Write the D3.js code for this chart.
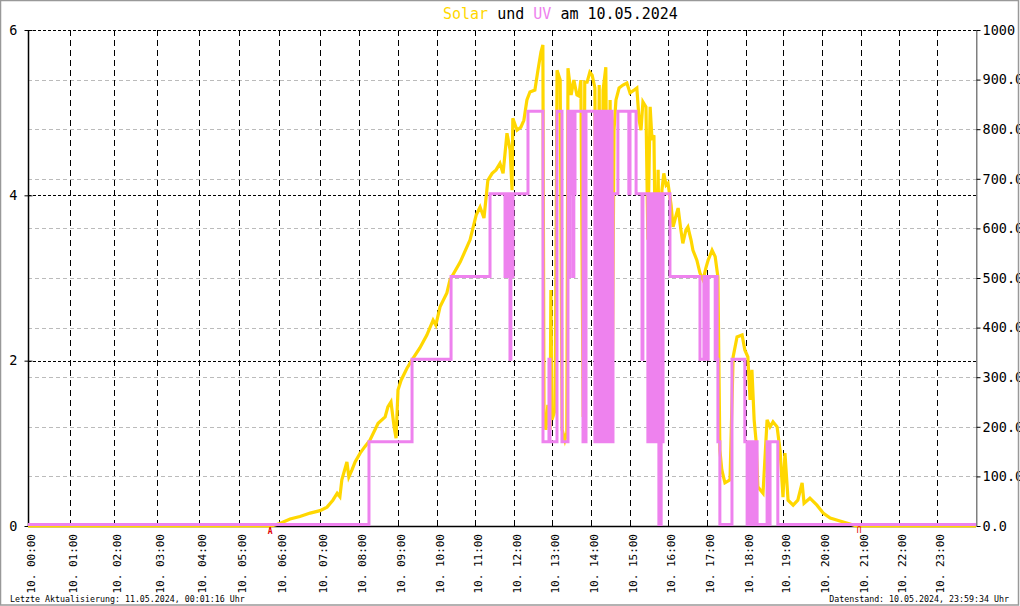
<!DOCTYPE html>
<html><head><meta charset="utf-8">
<script src="https://cdn.jsdelivr.net/npm/d3@7"></script>
<style>
html,body{margin:0;padding:0;background:#fff;}
svg{display:block;}
text{font-family:"DejaVu Sans Mono",monospace;}
</style></head>
<body><svg id="c" width="1020" height="606"></svg>
<script>
// ---------- data ----------
const titleParts = [["Solar","#FFD700"],[" und ","#000"],["UV","#EE82EE"],[" am 10.05.2024","#000"]];
const hourTicks = d3.range(0, 24);
const hourLabels = hourTicks.map(h => "10. " + String(h).padStart(2,"0") + ":00");
const uvTicks = [0, 2, 4, 6];
const solarTicks = d3.range(0, 1001, 100);
const footerLeft = "Letzte Aktualisierung: 11.05.2024, 00:01:16 Uhr";
const footerRight = "Datenstand: 10.05.2024, 23:59:34 Uhr";
const sunrise = 5.78, sunset = 20.95;

// solar radiation (W/m², right axis)
const solarHours = [0,5.82,6.02,6.27,6.51,6.76,7.0,7.18,7.33,7.44, 7.51,7.56,7.69,7.74,7.82,7.90,8.03,8.15,8.28,8.49, 8.67,8.74,8.82,8.90,8.95,9.0,9.08,9.23,9.36,9.56, 9.74,9.90,9.97,10.08,10.26,10.34,10.61,10.87,11.03,11.13, 11.23,11.33,11.44,11.54,11.64,11.72,11.82,11.90,11.95,11.97, 12.08,12.18,12.26,12.34,12.42,12.55,12.63,12.71,12.76,12.79, 12.84,12.89,12.95,12.97,13.0,13.08,13.13,13.21,13.26,13.33, 13.38,13.41,13.49,13.56,13.64,13.69,13.74,13.80,13.84,13.90, 13.97,14.03,14.10,14.15,14.21,14.26,14.31,14.38,14.44,14.49, 14.54,14.59,14.64,14.72,14.82,14.92,15.0,15.11,15.18,15.24, 15.29,15.34,15.42,15.47,15.53,15.58,15.63,15.68,15.74,15.79, 15.84,15.89,15.95,16.0,16.08,16.13,16.21,16.26,16.33,16.38, 16.46,16.51,16.59,16.64,16.74,16.82,16.90,16.97,17.03,17.13, 17.21,17.28,17.33,17.38,17.46,17.59,17.67,17.77,17.90,17.97, 18.05,18.11,18.16,18.22,18.27,18.32,18.46,18.57,18.65,18.73, 18.84,18.92,19.0,19.05,19.13,19.26,19.38,19.49,19.54,19.69, 19.87,20.03,20.21,20.46,20.72,20.87,24];
const solarValues = [0,0,5,14,19,26,31,38,52,66, 59,93,129,99,113,129,147,160,173,207, 220,240,250,200,177,274,294,318,335,359, 385,415,405,442,470,496,532,577,627,643, 621,697,711,718,731,711,792,758,677,822, 798,804,818,859,875,879,919,956,970,214, 194,244,194,476,214,234,919,899,194,173, 188,923,869,899,869,867,899,220,895,895, 915,909,883,254,889,214,879,925,224,859, 214,798,859,883,889,893,873,879,883,818, 798,855,845,577,845,778,788,456,718,395, 677,711,687,691,647,603,627,641,597,570, 597,603,577,556,536,510,496,520,536,556, 543,502,153,113,87,93,341,381,385,355, 341,254,315,214,173,79,66,214,200,210, 200,153,58,147,52,42,52,87,46,56, 42,26,16,10,4,0,0];

// UV index (left axis), step changes
const uvHours  = [0, 8.256, 9.36, 10.37, 11.385, 11.77, 11.795, 11.846, 11.87, 11.897, 11.92, 11.95, 11.974, 12.368, 12.763, 12.92, 12.947, 13.128, 13.256, 13.41, 13.436, 13.46, 13.487, 13.51, 13.54, 13.56, 13.59, 13.795, 13.872, 14.10, 14.13, 14.16, 14.19, 14.22, 14.26, 14.31, 14.33, 14.36, 14.41, 14.44, 14.46, 14.49, 14.51, 14.54, 14.564, 14.69, 14.97, 15.0, 15.16, 15.316, 15.34, 15.47, 15.50, 15.53, 15.55, 15.58, 15.61, 15.63, 15.66, 15.68, 15.71, 15.76, 15.82, 15.84, 15.86, 15.87, 16.05, 16.82, 16.92, 16.97, 17.03, 17.21, 17.23, 17.26, 17.28, 17.33, 17.64, 17.97, 18.03, 18.05, 18.08, 18.11, 18.16, 18.19, 18.24, 18.27, 18.30, 18.57, 18.62, 18.65, 18.86, 24];
const uvValues = [0, 1,     2,    3,     4,      3,     4,      3,      4,     2,      4,     3,     4,      5,      1,      2,     1,      5,      1,      5,     3,      5,     4,      5,     3,     4,     5,     1,      5,      1,     5,     1,     5,     1,     5,     1,     5,     1,     5,     1,     5,     1,     5,     1,     4,      5,     4,     5,    4,     2,      4,     1,     4,     1,     4,     1,     4,     1,     4,     1,     4,     0,     1,     4,     1,     4,     3,     2,     3,     2,     3,     2,     3,     2,     1,     0,     2,     1,     0,     1,     0,     1,     0,     1,     0,     1,     0,     1,     0,     1,     0,     0];

// ---------- layout ----------
const hourPx = [28,70,114,157,199,239,279,320,359,398,437,475,514,552,591,630,668,707,746,783,822,861,899,937,976];
const plotTop = 30, plotBottom = 526, plotLeft = 28, plotRight = 976;

const svg = d3.select("#c");
const x = d3.scaleLinear().domain(d3.range(25)).range(hourPx);
const yL = d3.scaleLinear().domain([0,6]).range([plotBottom, plotTop]);
const yR = d3.scaleLinear().domain([0,1000]).range([plotBottom, plotTop]);

svg.append("rect").attr("width",1020).attr("height",606).attr("fill","#fff");

// title
const title = svg.append("text").attr("x",443).attr("y",19).attr("font-size",15).attr("xml:space","preserve");
titleParts.forEach(([t,c]) => title.append("tspan").attr("fill",c).text(t));

// minor grid (gray dashed) at right-axis ticks
svg.append("g").selectAll("line").data(solarTicks.filter(d => d>0 && d<1000)).join("line")
  .attr("x1",plotLeft).attr("x2",plotRight).attr("y1",d=>Math.round(yR(d))+0.5).attr("y2",d=>Math.round(yR(d))+0.5)
  .attr("stroke","#bbbbbb").attr("stroke-width",1).attr("stroke-dasharray","4,3");
// major horizontal grid (black dotted) at left-axis ticks
svg.append("g").selectAll("line").data(uvTicks.filter(d => d>0)).join("line")
  .attr("x1",plotLeft).attr("x2",plotRight).attr("y1",d=>Math.round(yL(d))+0.5).attr("y2",d=>Math.round(yL(d))+0.5)
  .attr("stroke","#000").attr("stroke-width",1).attr("stroke-dasharray","3,2");
// vertical grid (black dashed) at hours
svg.append("g").selectAll("line").data(hourTicks.filter(d => d>0)).join("line")
  .attr("x1",d=>x(d)+0.5).attr("x2",d=>x(d)+0.5).attr("y1",plotTop).attr("y2",plotBottom)
  .attr("stroke","#000").attr("stroke-width",1).attr("stroke-dasharray","6,4");

// axes
const gL = svg.append("g").attr("transform",`translate(${plotLeft+0.5},0)`)
  .call(d3.axisLeft(yL).tickValues(uvTicks).tickSize(4).tickPadding(7).tickFormat(d3.format("d")));
const gR = svg.append("g").attr("transform",`translate(${plotRight+0.5},0)`)
  .call(d3.axisRight(yR).tickValues(solarTicks).tickSize(4).tickPadding(2)
    .tickFormat(d => d===1000 ? "1000" : d.toFixed(1)));
[gL,gR].forEach(g => {
  g.select(".domain").attr("stroke","#000").attr("stroke-width",1.5).attr("d",`M0,${plotTop}V${plotBottom}`);
  g.selectAll(".tick line").attr("x1",-4).attr("x2",4).attr("stroke","#000");
  g.selectAll(".tick text").attr("font-family","DejaVu Sans Mono, monospace").attr("font-size",13.5).attr("fill","#000");
});
// right labels are cut by the frame, as in the original
svg.append("clipPath").attr("id","rc").append("rect").attr("x",0).attr("y",0).attr("width",1017).attr("height",606);
gR.attr("clip-path","url(#rc)");

const gB = svg.append("g").attr("transform",`translate(0,${plotBottom+0.5})`)
  .call(d3.axisBottom(x).tickValues(hourTicks).tickSize(0).tickFormat((d,i)=>hourLabels[i]));
gB.select(".domain").attr("stroke","#000").attr("stroke-width",1.5).attr("d",`M${plotLeft},0H${plotRight}`);
gB.selectAll(".tick text").attr("font-family","DejaVu Sans Mono, monospace").attr("font-size",11).attr("fill","#000")
  .attr("text-anchor","end").attr("transform","rotate(-90)").attr("x",-7.5).attr("y",0).attr("dy","0.62em").attr("dx",0);

// solar line
svg.append("path").datum(solarHours.map((h,i)=>[h,solarValues[i]]))
  .attr("fill","none").attr("stroke","#FFD700").attr("stroke-width",3.2).attr("stroke-linejoin","miter")
  .attr("d", d3.line().x(d=>x(d[0])).y(d=>yR(d[1])));
// UV step line
svg.append("path").datum(uvHours.map((h,i)=>[h,uvValues[i]]))
  .attr("fill","none").attr("stroke","#EE82EE").attr("stroke-width",3)
  .attr("transform","translate(0,-1.5)")
  .attr("d", d3.line().curve(d3.curveStepAfter).x(d=>x(d[0])).y(d=>yL(d[1])));

// sunrise / sunset markers
svg.append("text").attr("x",x(sunrise)).attr("y",534).attr("text-anchor","middle")
  .attr("font-size",8).attr("font-weight","bold").attr("fill","#e00000").text("A");
svg.append("text").attr("transform",`translate(${x(sunset)},526) rotate(180)`).attr("text-anchor","middle")
  .attr("font-size",8).attr("fill","#e00000").text("U");

// footers
svg.append("text").attr("x",10).attr("y",602).attr("font-size",8.3).attr("fill","#000").text(footerLeft);
svg.append("text").attr("x",1009).attr("y",602).attr("text-anchor","end").attr("font-size",8.3).attr("fill","#000").text(footerRight);

// outer border
svg.append("rect").attr("x",0.5).attr("y",0.5).attr("width",1018).attr("height",604.5)
  .attr("fill","none").attr("stroke","#999").attr("stroke-width",1.5);
</script></body></html>
